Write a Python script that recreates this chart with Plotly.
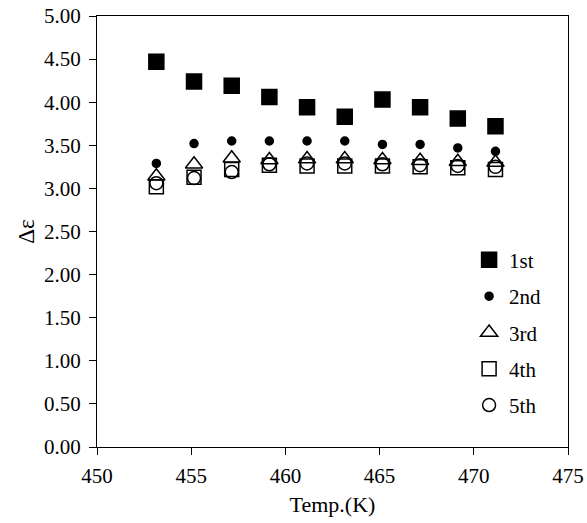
import plotly.graph_objects as go

temps = [453.15, 455.15, 457.15, 459.15, 461.15, 463.15, 465.15, 467.15, 469.15, 471.15]
first = [4.47, 4.24, 4.19, 4.06, 3.94, 3.83, 4.03, 3.94, 3.81, 3.72]
second = [3.29, 3.52, 3.55, 3.55, 3.55, 3.55, 3.51, 3.51, 3.47, 3.43]
third = [3.14, 3.28, 3.35, 3.33, 3.34, 3.34, 3.33, 3.32, 3.31, 3.30]
fourth = [3.02, 3.13, 3.22, 3.27, 3.26, 3.26, 3.26, 3.25, 3.24, 3.22]
fifth = [3.06, 3.12, 3.19, 3.28, 3.29, 3.29, 3.28, 3.27, 3.26, 3.25]

names = ["1st", "2nd", "3rd", "4th", "5th"]
series = [first, second, third, fourth, fifth]
symbols = ["square", "circle", "triangle-up-open", "square-open", "circle-open"]
sizes = [15, 8, 15, 14, 13]

fig = go.Figure()
for i, (nm, ys, sym, sz) in enumerate(zip(names, series, symbols, sizes)):
    fig.add_trace(go.Scatter(
        x=temps, y=ys, mode="markers", name=nm, legendgroup=nm,
        marker=dict(symbol=sym, size=sz, color="black",
                    line=dict(color="black", width=1.5)),
    ))

font = "Liberation Serif, Times New Roman, serif"
fig.update_layout(
    width=587, height=523,
    margin=dict(l=97, r=19, t=16, b=76),
    paper_bgcolor="white", plot_bgcolor="white",
    font=dict(family=font, size=21, color="black"),
    showlegend=True,
    legend=dict(x=0.79, y=0.481, xanchor="left", yanchor="top",
                bgcolor="rgba(0,0,0,0)", tracegroupgap=6,
                traceorder="grouped", font=dict(family=font, size=21)),
    xaxis=dict(range=[450, 475], dtick=5, tick0=450, showgrid=False, zeroline=False,
               showline=True, linecolor="black", linewidth=1, mirror=True,
               ticks="outside", ticklen=7, tickcolor="black", automargin=False,
               ticklabelstandoff=3,
               title=dict(text="Temp.(K)", font=dict(size=22), standoff=9)),
    yaxis=dict(range=[0, 5], dtick=0.5, tick0=0, tickformat=".2f", showgrid=False,
               zeroline=False, showline=True, linecolor="black", linewidth=1,
               mirror=True, ticks="outside", ticklen=7, tickcolor="black",
               automargin=False, ticklabelstandoff=4,
               title=dict(text="Δε", font=dict(size=23), standoff=2)),
)
fig.write_html("out.html")
